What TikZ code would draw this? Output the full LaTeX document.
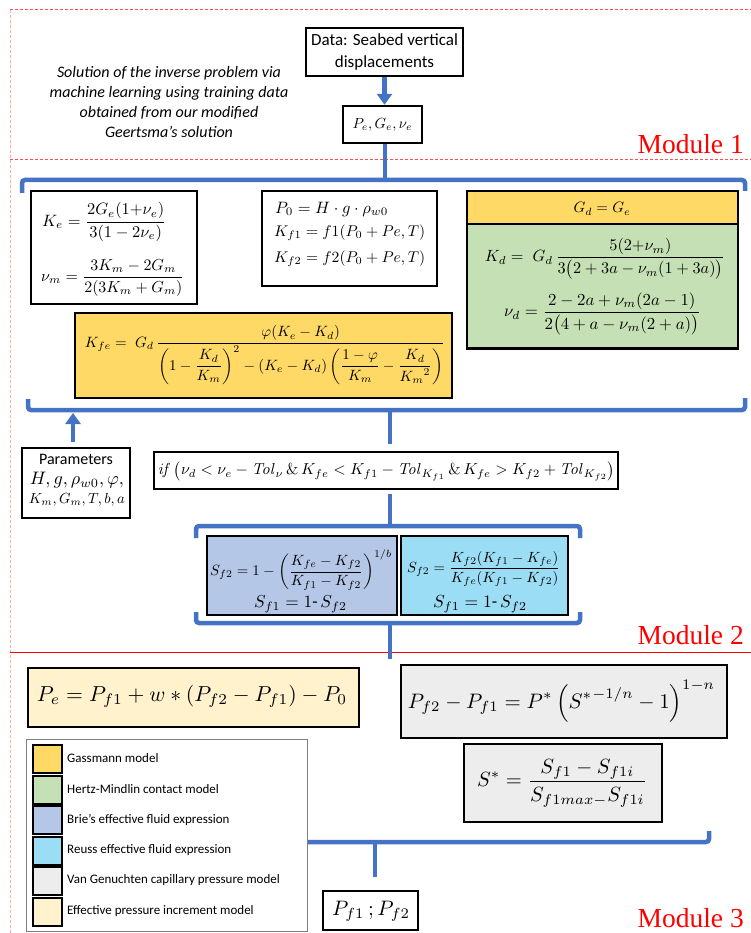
\documentclass[tikz,border=0pt]{standalone}
\usepackage{amsmath}
\usepackage{graphicx}
\usepackage[no-math]{fontspec}
\setmainfont{Carlito}
\newfontfamily\modfont{Liberation Serif}
\usetikzlibrary{arrows.meta,calc}
\definecolor{cblue}{HTML}{4472C4}
\definecolor{gass}{HTML}{FFD966}
\definecolor{hertz}{HTML}{C5E0B4}
\definecolor{brie}{HTML}{B4C7E7}
\definecolor{reuss}{HTML}{9BDDF5}
\definecolor{vang}{HTML}{EDEDED}
\definecolor{effp}{HTML}{FFF2CC}
\definecolor{modred}{HTML}{FF0000}
\definecolor{dashred}{HTML}{FF5050}
\definecolor{pinkline}{HTML}{FFA8A8}
\definecolor{leggray}{HTML}{7F7F7F}
\newcommand\fw[2]{\resizebox{#1pt}{!}{$\displaystyle #2$}}
\tikzset{
  fbox/.style={draw=black, line width=2.4pt, inner sep=0pt},
  conn/.style={draw=cblue, line width=4.5pt, rounded corners=3pt},
  arr/.style={draw=cblue, line width=4.5pt, -{Triangle[width=15pt,length=11pt]}},
  eq/.style={inner sep=0pt},
  modlabel/.style={inner sep=0pt, anchor=base east, text=modred, font=\modfont\fontsize{27.5}{30}\selectfont},
  redline/.style={draw=dashred, line width=1pt, dash pattern=on 3pt off 2pt},
  swatch/.style={draw=black, line width=2.2pt, minimum width=29, minimum height=28, inner sep=0pt},
  legtext/.style={anchor=west, inner sep=0pt, font=\fontsize{13}{15}\selectfont}
}
\begin{document}
\begin{tikzpicture}[x=1pt,y=-1pt]
\useasboundingbox (0,0) rectangle (751,933);
% module frames
\draw[redline] (10,10) -- (751,10);
\draw[redline] (10,160) -- (751,160);
\draw[draw=pinkline, line width=1pt, dash pattern=on 3pt off 2pt] (10,10) -- (10,933);
\draw[draw=modred, line width=0.8pt] (10,652) -- (751,652);
\node[modlabel] (m1) at (744,154) {Module 1};
\node[modlabel] (m2) at (744,644) {Module 2};
\node[modlabel] (m3) at (744,927) {Module 3};

% Module 1
\node[inner sep=0pt, align=center, font=\itshape\fontsize{16}{20}\selectfont] (intro) at (169,102)
  {Solution of the inverse problem via\\machine learning using training data\\obtained from our modified\\Geertsma’s solution};
\node[fbox, minimum width=157, minimum height=48, align=center, font=\fontsize{17}{21.5}\selectfont] (data) at (384.5,52)
  {Data: Seabed vertical\\displacements};
\node[fbox, minimum width=79, minimum height=37] (pe) at (382.5,124.5) {};
\node[eq] (peq) at (382.5,125) {\fw{60}{P_e, G_e, \nu_e}};
\draw[arr] (data.south) -- (data.south |- pe.north);

\coordinate (b1top) at (385,180);
\draw[conn] (pe.south -| b1top) -- (b1top);
\draw[conn] (22,193) -- (22,180) -- (745,180) -- (745,191);

\node[fbox, fill=white, minimum width=166, minimum height=113] (ke) at (114,247.5) {};
\node[eq, anchor=west] (keq) at (42,222) {\fw{124}{K_e = \frac{2G_e(1{+}\nu_e)}{3(1-2\nu_e)}}};
\node[eq, anchor=west] (nmq) at (41,278) {\fw{143}{\nu_m = \frac{3K_m-2G_m}{2(3K_m+G_m)}}};

\node[fbox, fill=white, minimum width=175, minimum height=95] (p0) at (349.5,238.5) {};
\node[eq, anchor=west] (p0q) at (275,209) {\fw{113}{P_0 = H\cdot g\cdot \rho_{w0}}};
\node[eq, anchor=west] (kf1q) at (274,233) {\fw{151}{K_{f1} = f1(P_0+Pe,T)}};
\node[eq, anchor=west] (kf2q) at (274,259) {\fw{151}{K_{f2} = f2(P_0+Pe,T)}};

\node[fbox, fill=hertz, minimum width=271, minimum height=124.5] (kd) at (602.5,286.25) {};
\node[fbox, fill=gass, minimum width=271, minimum height=33] (gd) at (602.5,207.5) {};
\node[eq] (gdq) at (602,209) {\fw{57}{G_d = G_e}};
\node[eq] (kdq) at (605,259) {\fw{240}{K_d = \;G_d\,\frac{5(2{+}\nu_m)}{3\bigl(2+3a-\nu_m(1+3a)\bigr)}}};
\node[eq] (ndq) at (602.5,314) {\fw{197}{\nu_d = \frac{2-2a+\nu_m(2a-1)}{2\bigl(4+a-\nu_m(2+a)\bigr)}}};

\node[fbox, fill=gass, minimum width=377, minimum height=85] (kfe) at (263.5,355.5) {};
\node[eq] (kfeq) at (265,355) {\fw{360}{K_{fe} = \;G_d\,\frac{\varphi(K_e-K_d)}{\left(1-\dfrac{K_d}{K_m}\right)^{2}-(K_e-K_d)\left(\dfrac{1-\varphi}{K_m}-\dfrac{K_d}{{K_m}^{2}}\right)}}};

\draw[conn] (28,399) -- (28,410) -- (745,410) -- (745,398);

% Module 2
\node[fbox, fill=white, line width=2pt, minimum width=108, minimum height=70] (par) at (76,483) {};
\node[inner sep=0pt, font=\fontsize{16}{18}\selectfont] (partitle) at (76,459) {Parameters};
\node[eq] (par1) at (77,480) {\fw{94}{H, g, \rho_{w0}, \varphi,}};
\node[eq] (par2) at (77,500) {\fw{96}{K_m, G_m, T, b, a}};
\coordinate (parup) at (73,413);
\draw[arr] (par.north -| parup) ++(0,-5) -- (parup);

\coordinate (v1a) at (390,410);
\coordinate (v1b) at (390,444);
\draw[conn] (v1a) -- (v1b);

\node[fbox, fill=white, minimum width=464, minimum height=37] (ifb) at (386,470.5) {};
\node[eq] (ifq) at (386.5,471) {\fw{457}{\mathit{if}\left(\nu_d<\nu_e-\mathit{Tol}_{\nu}\,\&\,K_{fe}<K_{f1}-\mathit{Tol}_{K_{f1}}\,\&\,K_{fe}>K_{f2}+\mathit{Tol}_{K_{f2}}\right)}};

\coordinate (b2top) at (390,526);
\draw[conn] (ifb.south -| b2top) ++(0,4) -- (b2top);
\draw[conn] (196,538) -- (196,526) -- (580,526) -- (580,538);

\node[fbox, fill=brie, minimum width=190, minimum height=79] (brieb) at (302,575.5) {};
\node[eq] (brieq) at (301,570) {\fw{182}{S_{f2} = 1-\left(\dfrac{K_{fe}-K_{f2}}{K_{f1}-K_{f2}}\right)^{1/b}}};
\node[eq] (brie1) at (300.5,604) {\fw{93}{S_{f1} = 1\text{-}\,S_{f2}}};

\node[fbox, fill=reuss, minimum width=167, minimum height=79] (reussb) at (484.5,575.5) {};
\node[eq] (reussq) at (483.5,569) {\fw{153}{S_{f2} = \frac{K_{f2}(K_{f1}-K_{fe})}{K_{fe}(K_{f1}-K_{f2})}}};
\node[eq] (reuss1) at (480,604) {\fw{94}{S_{f1} = 1\text{-}\,S_{f2}}};

\draw[conn] (196,612) -- (196,623) -- (580,623) -- (580,612);
\coordinate (v2a) at (390,623);
\coordinate (v2b) at (390,659);
\draw[conn] (v2a) -- (v2b);

% Module 3
\node[fbox, fill=effp, minimum width=331, minimum height=59] (peb) at (193.5,697.5) {};
\node[eq] (peq3) at (192,696) {\fw{310}{P_e = P_{f1} + w \ast \left(P_{f2}-P_{f1}\right) - P_0}};

\node[fbox, fill=vang, minimum width=326, minimum height=73] (pfb) at (564,701.5) {};
\node[eq] (pfq) at (561.5,701) {\fw{307}{P_{f2}-P_{f1} = P^{*}\left({S^{*}}^{-1/n}-1\right)^{1-n}}};

\node[fbox, fill=vang, minimum width=198, minimum height=78] (sb) at (563,783) {};
\node[eq] (sq) at (562,783) {\fw{170}{S^{*} = \frac{S_{f1}-S_{f1i}}{S_{f1max-}S_{f1i}}}};

\coordinate (b3l) at (300,842);
\coordinate (v3a) at (375,842);
\coordinate (v3b) at (375,877);
\draw[conn] (b3l) -- (709,842) -- (709,831);
\draw[conn] (v3a) -- (v3b);

\node[fbox, fill=white, minimum width=95, minimum height=39] (pff) at (370.5,910.5) {};
\node[eq] (pffq) at (371,911) {\fw{78}{P_{f1}\,;P_{f2}}};

% legend
\node[draw=leggray, line width=0.8pt, fill=white, minimum width=281, minimum height=192, inner sep=0pt] (leg) at (166.5,835) {};
\node[swatch, fill=gass] (s1) at (47.5,759.25) {};
\node[swatch, fill=hertz] (s2) at (47.5,789.75) {};
\node[swatch, fill=brie] (s3) at (47.5,820.25) {};
\node[swatch, fill=reuss] (s4) at (47.5,850.75) {};
\node[swatch, fill=vang] (s5) at (47.5,881.25) {};
\node[swatch, fill=effp] (s6) at (47.5,911.75) {};
\node[legtext] (l1) at (67,758) {Gassmann model};
\node[legtext] (l2) at (67,789) {Hertz-Mindlin contact model};
\node[legtext] (l3) at (67,820) {Brie’s effective fluid expression};
\node[legtext] (l4) at (67,850) {Reuss effective fluid expression};
\node[legtext] (l5) at (67,880) {Van Genuchten capillary pressure model};
\node[legtext] (l6) at (67,911) {Effective pressure increment model};
\end{tikzpicture}
\end{document}
